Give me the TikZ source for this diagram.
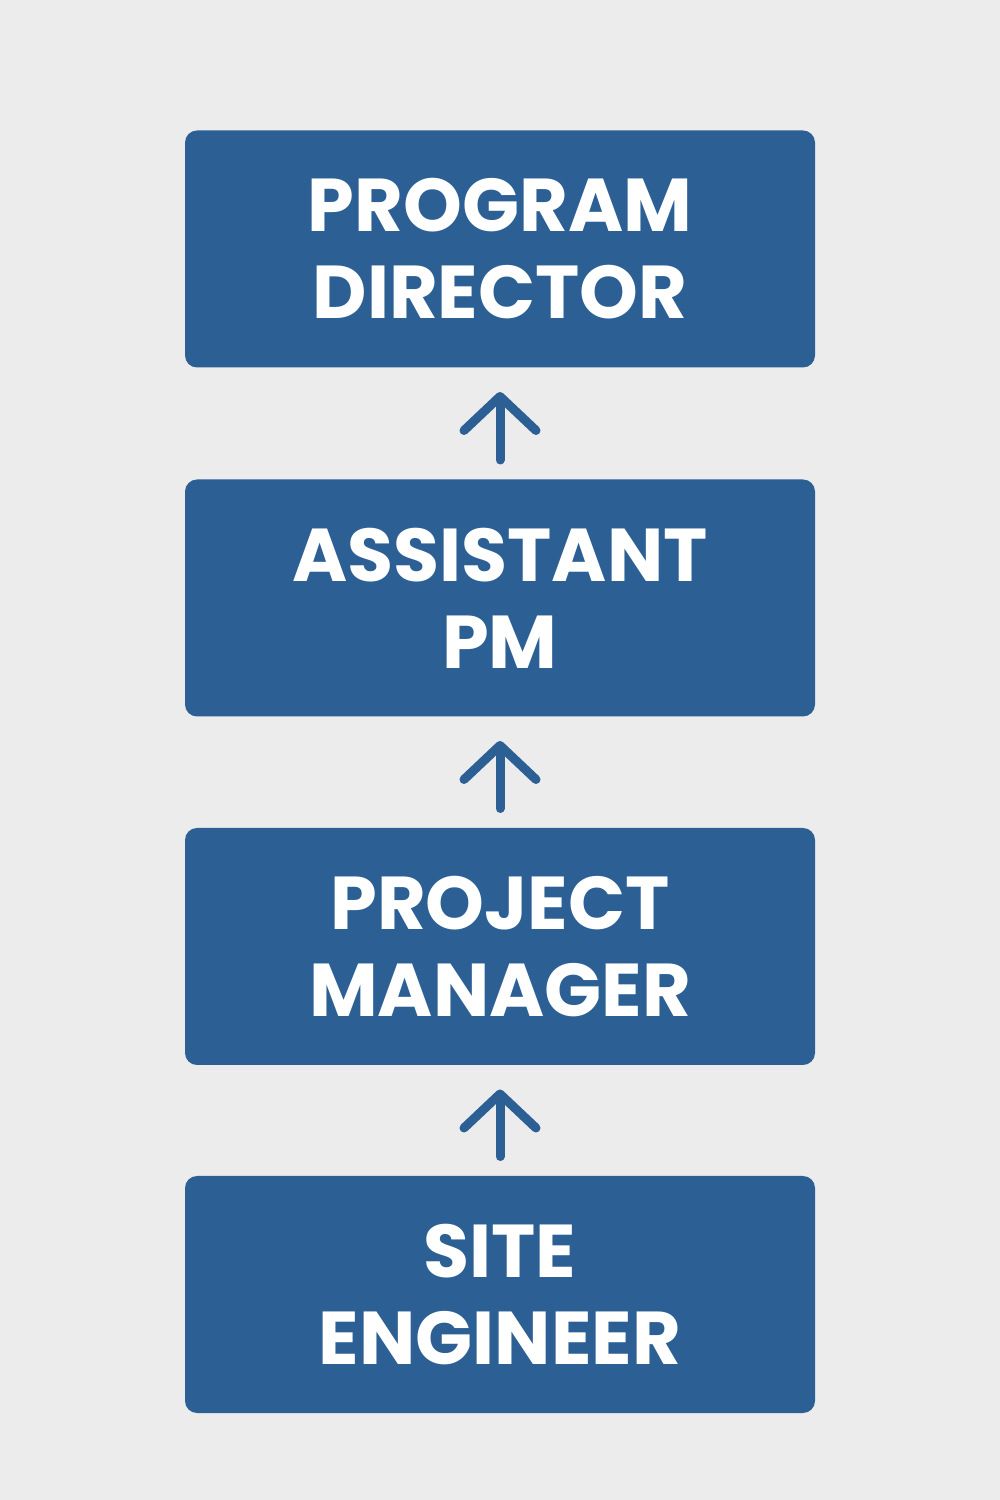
\documentclass[tikz,border=0pt]{standalone}
\usepackage{fontspec}
\setmainfont{Poppins}
\usepackage{tikz}
\usetikzlibrary{arrows.meta, positioning}
\definecolor{boxblue}{RGB}{44,95,148}
\definecolor{paper}{RGB}{236,236,236}
\tikzset{rolebox/.style={rectangle, rounded corners=0.12cm, fill=boxblue, text=white,
  minimum width=6.3cm, minimum height=2.37cm, align=center,
  font=\fontsize{21.3}{24.8}\selectfont\bfseries}}

\begin{document}
\begin{tikzpicture}[>={Straight Barb[length=3.4mm, width=7.2mm, line cap=round, line join=round]}, line width=0.09cm]

			\fill[paper] (0,0) rectangle (10,15);
			\useasboundingbox (0,0) rectangle (10,15);

			\node[rolebox] (PD) at (5,12.51) {PROGRAM\\DIRECTOR};
			\node[rolebox] (APM) at (5,9.02) {ASSISTANT\\PM};
			\node[rolebox] (PM) at (5,5.535) {PROJECT\\MANAGER};
			\node[rolebox] (SE) at (5,2.055) {SITE\\ENGINEER};

			\draw [->, boxblue, line cap=round, shorten <=0.15cm, shorten >=0.2cm] (APM)--(PD);
			\draw [->, boxblue, line cap=round, shorten <=0.15cm, shorten >=0.2cm] (PM)--(APM);
			\draw [->, boxblue, line cap=round, shorten <=0.15cm, shorten >=0.2cm] (SE)--(PM);

			\end{tikzpicture}
\end{document}
